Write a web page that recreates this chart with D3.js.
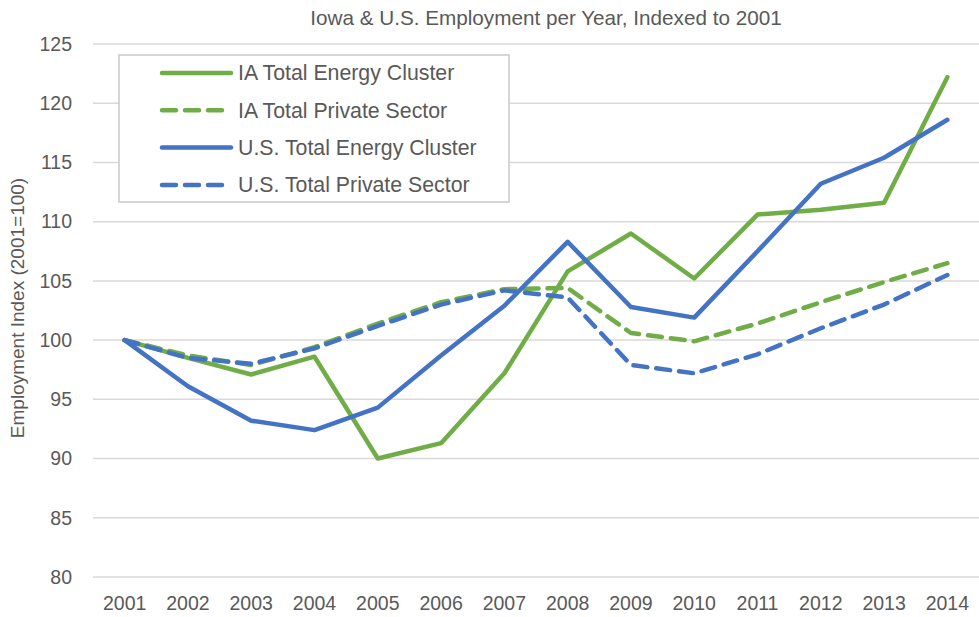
<!DOCTYPE html>
<html>
<head>
<meta charset="utf-8">
<script src="https://cdn.jsdelivr.net/npm/d3@7"></script>
<style>
	body { margin: 0; background: #fff; }
	text { font-family: "Liberation Sans", Arial, sans-serif; fill: #595959; }
</style>
</head>
<body>
<script>
// chart data
var years = ['2001', '2002', '2003', '2004', '2005', '2006', '2007', '2008', '2009', '2010', '2011', '2012', '2013', '2014'];
var iaEnergy = [100, 98.5, 97.1, 98.6, 90.0, 91.3, 97.2, 105.8, 109.0, 105.2, 110.6, 111.0, 111.6, 122.2];
var iaPrivate = [100, 98.7, 97.9, 99.4, 101.4, 103.2, 104.3, 104.4, 100.6, 99.9, 101.4, 103.2, 104.9, 106.5];
var usEnergy = [100, 96.1, 93.2, 92.4, 94.3, 98.7, 102.9, 108.3, 102.8, 101.9, 107.5, 113.2, 115.4, 118.6];
var usPrivate = [100, 98.5, 98.0, 99.3, 101.2, 103.0, 104.2, 103.6, 97.9, 97.2, 98.8, 101.0, 103.0, 105.5];
var yTicks = [80, 85, 90, 95, 100, 105, 110, 115, 120, 125];

var series = [
	{ name: 'IA Total Energy Cluster', values: iaEnergy, color: '#70ad47', dashed: false },
	{ name: 'IA Total Private Sector', values: iaPrivate, color: '#70ad47', dashed: true },
	{ name: 'U.S. Total Energy Cluster', values: usEnergy, color: '#4472c4', dashed: false },
	{ name: 'U.S. Total Private Sector', values: usPrivate, color: '#4472c4', dashed: true }
];

var width = 979, height = 617;
var margin = { top: 44, right: 0, bottom: 40, left: 93 };
var dash = '14,9';

var svg = d3.select('body')
	.append('svg')
		.attr('width', width)
		.attr('height', height);

var x = d3.scaleBand()
	.domain(years)
	.range([margin.left, width - margin.right]);

var y = d3.scaleLinear()
	.domain([80, 125])
	.range([height - margin.bottom, margin.top]);

// gridlines
svg.append('g')
	.selectAll('line')
	.data(yTicks)
	.enter()
	.append('line')
		.attr('x1', margin.left)
		.attr('x2', width)
		.attr('y1', function(d) { return y(d); })
		.attr('y2', function(d) { return y(d); })
		.attr('stroke', '#d9d9d9')
		.attr('stroke-width', 1.5);

// y axis labels
var yAxis = d3.axisLeft(y)
	.tickValues(yTicks)
	.tickSize(0)
	.tickPadding(0);

svg.append('g')
	.attr('transform', 'translate(72,0)')
	.call(yAxis)
	.call(function(g) { g.select('.domain').remove(); })
	.selectAll('text')
		.attr('font-size', 19.5)
		.attr('font-family', null)
		.attr('fill', null);

// x axis labels
var xAxis = d3.axisBottom(x)
	.tickSize(0)
	.tickPadding(0);

svg.append('g')
	.attr('transform', 'translate(0,' + 596 + ')')
	.call(xAxis)
	.call(function(g) { g.select('.domain').remove(); })
	.selectAll('text')
		.attr('font-size', 19.5)
		.attr('font-family', null)
		.attr('fill', null);

// lines
var line = d3.line()
	.x(function(d, i) { return x(years[i]) + x.bandwidth() / 2; })
	.y(function(d) { return y(d); });

svg.append('g')
	.selectAll('path')
	.data(series)
	.enter()
	.append('path')
		.attr('d', function(d) { return line(d.values); })
		.attr('fill', 'none')
		.attr('stroke', function(d) { return d.color; })
		.attr('stroke-width', 4.5)
		.attr('stroke-linejoin', 'round')
		.attr('stroke-linecap', 'round')
		.attr('stroke-dasharray', function(d) { return d.dashed ? dash : null; });

// title
svg.append('text')
	.attr('x', 546)
	.attr('y', 25)
	.attr('text-anchor', 'middle')
	.attr('font-size', 20.7)
	.text('Iowa & U.S. Employment per Year, Indexed to 2001');

// y axis title
svg.append('text')
	.attr('transform', 'translate(24,' + 308 + ') rotate(-90)')
	.attr('text-anchor', 'middle')
	.attr('font-size', 19)
	.text('Employment Index (2001=100)');

// legend
var legend = svg.append('g')
	.attr('transform', 'translate(119,55)');

legend.append('rect')
	.attr('width', 390)
	.attr('height', 147)
	.attr('fill', '#fff')
	.attr('stroke', '#c9c9c9')
	.attr('stroke-width', 1.5);

var item = legend.selectAll('.item')
	.data(series)
	.enter()
	.append('g')
		.attr('class', 'item')
		.attr('transform', function(d, i) { return 'translate(0,' + (18 + i * 37.3) + ')'; });

item.append('line')
	.attr('x1', 43)
	.attr('x2', 112)
	.attr('stroke', function(d) { return d.color; })
	.attr('stroke-width', 4.5)
	.attr('stroke-linecap', 'round')
	.attr('stroke-dasharray', function(d) { return d.dashed ? dash : null; });

item.append('text')
	.attr('x', 119)
	.attr('dy', '0.35em')
	.attr('font-size', 21.3)
	.text(function(d) { return d.name; });
</script>
</body>
</html>
